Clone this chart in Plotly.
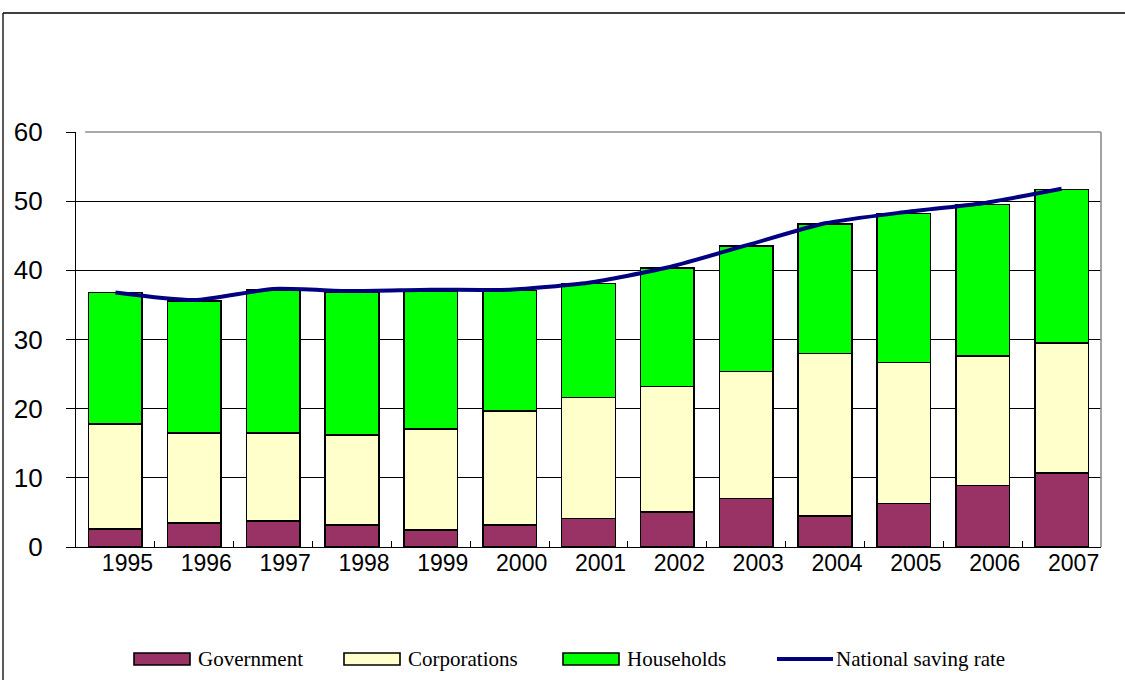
import plotly.graph_objects as go

years = ["1995", "1996", "1997", "1998", "1999", "2000", "2001",
         "2002", "2003", "2004", "2005", "2006", "2007"]
government = [2.6, 3.5, 3.8, 3.2, 2.5, 3.2, 4.1, 5.1, 7.0, 4.5, 6.3, 8.9, 10.7]
corporations = [15.2, 13.0, 12.7, 13.0, 14.6, 16.5, 17.5, 18.1, 18.4, 23.5, 20.4, 18.7, 18.8]
households = [19.0, 19.1, 20.7, 20.7, 19.9, 17.4, 16.5, 17.1, 18.1, 18.7, 21.5, 21.9, 22.2]
national_rate = [36.8, 35.7, 37.3, 37.0, 37.2, 37.2, 38.2, 40.4, 43.6, 46.8, 48.4, 49.7, 51.8]
y_ticks = [0, 10, 20, 30, 40, 50, 60]

series_names = ["Government", "Corporations", "Households", "National saving rate"]
series_colors = ["#993366", "#FFFFCC", "#00FF00", "#000080"]

fig = go.Figure()
bar_line = dict(color="black", width=1.6)
for name, vals, col in zip(series_names[:3], [government, corporations, households], series_colors[:3]):
    fig.add_trace(go.Bar(x=years, y=vals, name=name,
                         marker=dict(color=col, line=bar_line)))
fig.add_trace(go.Scatter(x=years, y=national_rate, name=series_names[3],
                         mode="lines", line=dict(color=series_colors[3], width=4,
                                                 shape="spline", smoothing=0.6)))

W, H = 1125, 680
L, R, T, B = 76, 24, 132, 133
pw, ph = W - L - R, H - T - B


def px(x):
    return (x - L) / pw


def py(y):
    return (H - B - y) / ph


fig.update_layout(
    width=W, height=H,
    barmode="stack", bargap=0.32,
    paper_bgcolor="white", plot_bgcolor="white",
    margin=dict(l=L, r=R, t=T, b=B, pad=0),
    showlegend=False,
    font=dict(family="Liberation Sans", color="black"),
)
fig.update_xaxes(
    type="category", showgrid=False, showline=True, linecolor="black", linewidth=1.3,
    ticks="inside", tickson="boundaries", ticklen=6, tickcolor="black", tickwidth=1,
    tickfont=dict(family="Liberation Sans", size=23, color="black"),
    ticklabelshift=12, ticklabelstandoff=-5,
    zeroline=False,
)
fig.update_yaxes(
    range=[0, 60], tickvals=y_ticks, showgrid=True, gridcolor="black", gridwidth=1,
    showline=True, linecolor="black", linewidth=1.3,
    ticks="outside", ticklen=9, tickcolor="black", tickwidth=1,
    tickfont=dict(family="Liberation Sans", size=26, color="black"),
    ticklabelstandoff=18, zeroline=False,
)

# grey plot-area border (top and right)
fig.add_shape(type="line", xref="paper", yref="paper", x0=0.009, x1=1, y0=1, y1=1,
              line=dict(color="#8c8c8c", width=1.6), layer="above")
fig.add_shape(type="line", xref="paper", yref="paper", x0=1, x1=1, y0=0, y1=1,
              line=dict(color="#8c8c8c", width=1.6), layer="above")
# outer chart frame (left and top edges visible)
fig.add_shape(type="line", xref="paper", yref="paper", x0=px(3), x1=px(3), y0=py(13), y1=py(700),
              line=dict(color="black", width=1.3), layer="above")
fig.add_shape(type="line", xref="paper", yref="paper", x0=px(3), x1=px(1140), y0=py(13), y1=py(13),
              line=dict(color="black", width=1.3), layer="above")

# legend (drawn as key swatches + text, Excel style)
legend_x = [134, 344, 563, 777]
sw_w, sw_h, leg_y = 56, 12, 659
for i, (name, col) in enumerate(zip(series_names, series_colors)):
    x0 = legend_x[i]
    if i < 3:
        fig.add_shape(type="rect", xref="paper", yref="paper",
                      x0=px(x0), x1=px(x0 + sw_w), y0=py(leg_y - sw_h / 2), y1=py(leg_y + sw_h / 2),
                      fillcolor=col, line=dict(color="black", width=1.6))
        tx = x0 + sw_w + 6
    else:
        fig.add_shape(type="line", xref="paper", yref="paper",
                      x0=px(x0), x1=px(x0 + sw_w), y0=py(leg_y), y1=py(leg_y),
                      line=dict(color=col, width=4))
        tx = x0 + sw_w + 1
    fig.add_annotation(text=name, xref="paper", yref="paper", x=px(tx), y=py(leg_y),
                       xanchor="left", yanchor="middle", showarrow=False,
                       font=dict(family="Liberation Serif", size=21, color="black"))

fig.write_html("out.html", config={"displayModeBar": False},
               post_script="document.body.style.margin='0';document.body.style.overflow='hidden';")
